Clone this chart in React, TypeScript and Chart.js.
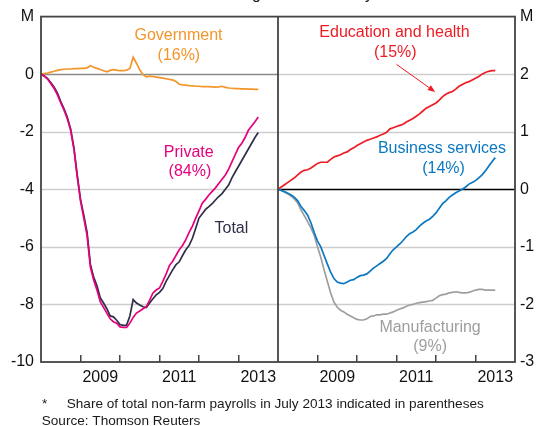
import React, { useEffect, useRef } from 'react';
import { Chart, registerables } from 'chart.js';

Chart.register(...registerables);

// Monthly cumulative change (millions), starting January 2008
const START_YEAR = 2008;

const governmentM = [
  0, 0.02, 0.04, 0.07, 0.10, 0.13, 0.16, 0.17, 0.18, 0.18,
  0.19, 0.19, 0.20, 0.20, 0.22, 0.29, 0.24, 0.20, 0.16, 0.12,
  0.08, 0.13, 0.16, 0.14, 0.12, 0.12, 0.14, 0.20, 0.59, 0.38,
  0.15, -0.02, -0.09, -0.07, -0.08, -0.10, -0.12, -0.14, -0.16, -0.18,
  -0.20, -0.25, -0.35, -0.37, -0.38, -0.40, -0.41, -0.42, -0.42, -0.43,
  -0.43, -0.43, -0.44, -0.45, -0.44, -0.42, -0.46, -0.48, -0.49, -0.50,
  -0.50, -0.51, -0.51, -0.52, -0.52, -0.53, -0.53,
];

const totalM = [
  0, -0.06, -0.15, -0.30, -0.45, -0.66, -0.95, -1.20, -1.50, -1.90,
  -2.55, -3.50, -4.35, -4.90, -5.50, -6.60, -7.05, -7.35, -7.77, -7.95,
  -8.15, -8.40, -8.43, -8.55, -8.70, -8.73, -8.72, -8.40, -7.83, -7.95,
  -8.02, -8.08, -8.11, -7.95, -7.80, -7.67, -7.58, -7.45, -7.20, -7.00,
  -6.80, -6.62, -6.52, -6.30, -6.10, -5.95, -5.70, -5.35, -5.00, -4.85,
  -4.70, -4.60, -4.50, -4.37, -4.25, -4.15, -4.00, -3.85, -3.60, -3.40,
  -3.20, -3.00, -2.80, -2.60, -2.40, -2.20, -2.03,
];

const privateM = [
  0, -0.07, -0.17, -0.33, -0.50, -0.72, -1.00, -1.25, -1.55, -1.95,
  -2.60, -3.55, -4.40, -5.00, -5.60, -6.70, -7.15, -7.50, -7.90, -8.10,
  -8.30, -8.50, -8.60, -8.65, -8.78, -8.80, -8.80, -8.65, -8.45, -8.30,
  -8.23, -8.15, -8.08, -7.85, -7.60, -7.50, -7.43, -7.20, -6.95, -6.65,
  -6.50, -6.30, -6.10, -5.95, -5.75, -5.50, -5.28, -5.00, -4.75, -4.48,
  -4.35, -4.20, -4.07, -3.95, -3.80, -3.65, -3.50, -3.30, -3.05, -2.80,
  -2.55, -2.40, -2.20, -1.95, -1.80, -1.65, -1.49,
];

const educationHealthM = [
  0, 0.04, 0.08, 0.12, 0.16, 0.20, 0.25, 0.30, 0.33, 0.34,
  0.37, 0.41, 0.45, 0.47, 0.47, 0.47, 0.52, 0.56, 0.58, 0.60,
  0.63, 0.65, 0.69, 0.72, 0.76, 0.79, 0.82, 0.85, 0.87, 0.89,
  0.91, 0.94, 0.96, 0.99, 1.05, 1.07, 1.09, 1.11, 1.13, 1.17,
  1.20, 1.23, 1.27, 1.31, 1.36, 1.41, 1.44, 1.47, 1.50, 1.55,
  1.61, 1.65, 1.68, 1.70, 1.74, 1.79, 1.82, 1.85, 1.87, 1.90,
  1.93, 1.96, 2.00, 2.03, 2.05, 2.06, 2.06,
];

const businessServicesM = [
  0, -0.02, -0.04, -0.07, -0.10, -0.14, -0.20, -0.30, -0.37, -0.45,
  -0.58, -0.75, -0.90, -1.00, -1.15, -1.30, -1.44, -1.55, -1.61, -1.63,
  -1.64, -1.61, -1.58, -1.57, -1.53, -1.50, -1.49, -1.47, -1.42, -1.37,
  -1.33, -1.29, -1.25, -1.20, -1.12, -1.05, -1.00, -0.95, -0.89, -0.82,
  -0.77, -0.74, -0.70, -0.64, -0.59, -0.55, -0.52, -0.47, -0.41, -0.33,
  -0.25, -0.20, -0.14, -0.10, -0.06, -0.03, 0.00, 0.04, 0.09, 0.12,
  0.15, 0.20, 0.25, 0.32, 0.40, 0.48, 0.55,
];

const manufacturingM = [
  0, -0.02, -0.05, -0.08, -0.12, -0.17, -0.24, -0.36, -0.46, -0.56,
  -0.67, -0.80, -1.00, -1.18, -1.40, -1.60, -1.80, -1.96, -2.05, -2.10,
  -2.13, -2.17, -2.20, -2.23, -2.26, -2.27, -2.27, -2.25, -2.21, -2.20,
  -2.18, -2.18, -2.17, -2.17, -2.15, -2.13, -2.10, -2.08, -2.06, -2.03,
  -2.01, -2.00, -1.98, -1.97, -1.96, -1.95, -1.94, -1.93, -1.89, -1.85,
  -1.83, -1.82, -1.80, -1.79, -1.78, -1.79, -1.80, -1.80, -1.79, -1.77,
  -1.75, -1.74, -1.74, -1.75, -1.75, -1.75, -1.75,
];

const xLabelYears = [2009, 2011, 2013];
const xMinYear = 2008;
const xMaxYear = 2014;
const leftRange = [-10, 2];
const rightRange = [-3, 3];

const TITLE = 'Cumulative change since January 2008*';
const FOOTNOTE = 'Share of total non-farm payrolls in July 2013 indicated in parentheses';
const SOURCE = 'Source: Thomson Reuters';

const ORANGE = '#F4952A';
const MAGENTA = '#E6007E';
const NAVY = '#2F2F48';
const RED = '#EE1C25';
const BLUE = '#0B78C1';
const GREY = '#9E9E9E';
const FONT = 'Arial, "Liberation Sans", Helvetica, sans-serif';

const toPoints = (vals: number[]) => vals.map((y, i) => ({ x: START_YEAR + i / 12, y }));

type Note = { text: string; x: number; y: number; panel: 'L' | 'R'; color: string };
const notes: Note[] = [
  { text: 'Government', x: 2011.48, y: 1.33, panel: 'L', color: ORANGE },
  { text: '(16%)', x: 2011.49, y: 0.66, panel: 'L', color: ORANGE },
  { text: 'Private', x: 2011.74, y: -2.72, panel: 'L', color: MAGENTA },
  { text: '(84%)', x: 2011.77, y: -3.37, panel: 'L', color: MAGENTA },
  { text: 'Total', x: 2012.82, y: -5.35, panel: 'L', color: NAVY },
  { text: 'Education and health', x: 2010.95, y: 2.72, panel: 'R', color: RED },
  { text: '(15%)', x: 2010.97, y: 2.37, panel: 'R', color: RED },
  { text: 'Business services', x: 2012.15, y: 0.7, panel: 'R', color: BLUE },
  { text: '(14%)', x: 2012.19, y: 0.36, panel: 'R', color: BLUE },
  { text: 'Manufacturing', x: 2011.85, y: -2.4, panel: 'R', color: GREY },
  { text: '(9%)', x: 2011.85, y: -2.74, panel: 'R', color: GREY },
];
const arrowFrom = { x: 2011.0, y: 2.17 };
const arrowTo = { x: 2011.98, y: 1.69 };

const panelPlugin = {
  id: 'panels',
  beforeDatasetsDraw(chart: any) {
    const { ctx, scales } = chart;
    const { xL, xR, yL, yR } = scales;
    ctx.save();
    ctx.lineWidth = 1.3;
    yL.ticks.forEach((t: any) => {
      if (t.value <= yL.min || t.value >= yL.max) return;
      const py = Math.round(yL.getPixelForValue(t.value)) + 0.5;
      ctx.strokeStyle = t.value === 0 ? '#8a8a8a' : '#cdcdcd';
      ctx.beginPath();
      ctx.moveTo(xL.left, py);
      ctx.lineTo(xL.right, py);
      ctx.stroke();
    });
    yR.ticks.forEach((t: any) => {
      if (t.value <= yR.min || t.value >= yR.max) return;
      const py = Math.round(yR.getPixelForValue(t.value)) + 0.5;
      ctx.strokeStyle = t.value === 0 ? '#000000' : '#cdcdcd';
      ctx.beginPath();
      ctx.moveTo(xR.left, py);
      ctx.lineTo(xR.right, py);
      ctx.stroke();
    });
    ctx.restore();
  },
  afterDatasetsDraw(chart: any) {
    const { ctx, scales, chartArea } = chart;
    const { xL, xR, yL, yR } = scales;
    ctx.save();
    // frame
    ctx.strokeStyle = '#444444';
    ctx.lineWidth = 1.8;
    ctx.strokeRect(chartArea.left, chartArea.top, chartArea.right - chartArea.left, chartArea.bottom - chartArea.top);
    ctx.beginPath();
    ctx.moveTo(xR.left, chartArea.top);
    ctx.lineTo(xR.left, chartArea.bottom);
    ctx.stroke();
    // notes
    ctx.font = `16px ${FONT}`;
    ctx.textAlign = 'center';
    ctx.textBaseline = 'middle';
    notes.forEach((n) => {
      const xs = n.panel === 'L' ? xL : xR;
      const ys = n.panel === 'L' ? yL : yR;
      ctx.fillStyle = n.color;
      ctx.fillText(n.text, xs.getPixelForValue(n.x), ys.getPixelForValue(n.y));
    });
    // arrow
    const x1 = xR.getPixelForValue(arrowFrom.x);
    const y1 = yR.getPixelForValue(arrowFrom.y);
    const x2 = xR.getPixelForValue(arrowTo.x);
    const y2 = yR.getPixelForValue(arrowTo.y);
    const ang = Math.atan2(y2 - y1, x2 - x1);
    const head = 8;
    ctx.strokeStyle = RED;
    ctx.fillStyle = RED;
    ctx.lineWidth = 1;
    ctx.beginPath();
    ctx.moveTo(x1, y1);
    ctx.lineTo(x2 - Math.cos(ang) * head * 0.8, y2 - Math.sin(ang) * head * 0.8);
    ctx.stroke();
    ctx.beginPath();
    ctx.moveTo(x2, y2);
    ctx.lineTo(x2 - head * Math.cos(ang - 0.38), y2 - head * Math.sin(ang - 0.38));
    ctx.lineTo(x2 - head * Math.cos(ang + 0.38), y2 - head * Math.sin(ang + 0.38));
    ctx.closePath();
    ctx.fill();
    ctx.restore();
  },
  afterDraw(chart: any) {
    const { ctx } = chart;
    ctx.save();
    ctx.fillStyle = '#1a1a1a';
    ctx.textBaseline = 'alphabetic';
    ctx.textAlign = 'center';
    ctx.font = `16px ${FONT}`;
    ctx.fillText(TITLE, 276, -1.5);
    ctx.textAlign = 'left';
    ctx.font = `13.6px ${FONT}`;
    ctx.fillText('*', 42, 407.5);
    ctx.fillText(FOOTNOTE, 66.7, 407.5);
    ctx.fillText(SOURCE, 41.7, 424.5);
    ctx.restore();
  },
};

const xAxis = () => ({
  type: 'linear' as const,
  position: 'bottom' as const,
  stack: 'x',
  stackWeight: 1,
  min: xMinYear,
  max: xMaxYear,
  afterFit: (s: any) => {
    s.height = 64;
  },
  border: { display: false },
  grid: {
    drawOnChartArea: false,
    drawTicks: true,
    tickLength: -7,
    lineWidth: 1.5,
    color: (c: any) => {
      const v = c.tick ? c.tick.value : NaN;
      return Number.isInteger(v) && v > xMinYear && v < xMaxYear ? '#444444' : 'rgba(0,0,0,0)';
    },
  },
  ticks: {
    stepSize: 0.5,
    autoSkip: false,
    maxRotation: 0,
    padding: 13,
    color: '#111111',
    font: { size: 16, family: FONT },
    callback: (v: any) => {
      const yr = Number(v) - 0.5;
      return xLabelYears.includes(yr) ? String(yr) : '';
    },
  },
});

export default function App() {
  const ref = useRef<HTMLCanvasElement | null>(null);
  useEffect(() => {
    if (!ref.current) return;
    const chart = new Chart(ref.current, {
      type: 'line',
      data: {
        datasets: [
          { label: 'Private', data: toPoints(privateM), xAxisID: 'xL', yAxisID: 'yL', borderColor: MAGENTA },
          { label: 'Total', data: toPoints(totalM), xAxisID: 'xL', yAxisID: 'yL', borderColor: NAVY },
          { label: 'Government', data: toPoints(governmentM), xAxisID: 'xL', yAxisID: 'yL', borderColor: ORANGE },
          { label: 'Business services', data: toPoints(businessServicesM), xAxisID: 'xR', yAxisID: 'yR', borderColor: BLUE },
          { label: 'Manufacturing', data: toPoints(manufacturingM), xAxisID: 'xR', yAxisID: 'yR', borderColor: GREY },
          { label: 'Education and health', data: toPoints(educationHealthM), xAxisID: 'xR', yAxisID: 'yR', borderColor: RED },
        ] as any,
      },
      options: {
        animation: false,
        responsive: false,
        maintainAspectRatio: false,
        layout: { padding: { left: 0, right: 0, top: 12, bottom: 0 } },
        elements: {
          point: { radius: 0, hoverRadius: 0 },
          line: { borderWidth: 1.7, tension: 0, fill: false },
        },
        plugins: { legend: { display: false }, tooltip: { enabled: false }, title: { display: false } },
        scales: {
          xL: xAxis(),
          xR: xAxis(),
          yL: {
            type: 'linear',
            position: 'left',
            min: leftRange[0],
            max: leftRange[1],
            afterFit: (s: any) => {
              s.width = 41;
            },
            border: { display: false },
            grid: { drawOnChartArea: false, drawTicks: false },
            ticks: {
              stepSize: 2,
              padding: 7,
              color: '#111111',
              font: { size: 16, family: FONT },
              callback: (v: any) => (Number(v) === leftRange[1] ? 'M' : String(v)),
            },
          },
          yR: {
            type: 'linear',
            position: 'right',
            min: rightRange[0],
            max: rightRange[1],
            afterFit: (s: any) => {
              s.width = 22;
            },
            border: { display: false },
            grid: { drawOnChartArea: false, drawTicks: false },
            ticks: {
              stepSize: 1,
              padding: 5,
              color: '#111111',
              font: { size: 16, family: FONT },
              callback: (v: any) => (Number(v) === rightRange[1] ? 'M' : String(v)),
            },
          },
        } as any,
      },
      plugins: [panelPlugin],
    });
    return () => chart.destroy();
  }, []);

  return (
    <div style={{ position: 'absolute', left: 0, top: 0, width: 537, height: 426, background: '#ffffff' }}>
      <canvas ref={ref} width={537} height={426} style={{ display: 'block', width: 537, height: 426 }} />
    </div>
  );
}
